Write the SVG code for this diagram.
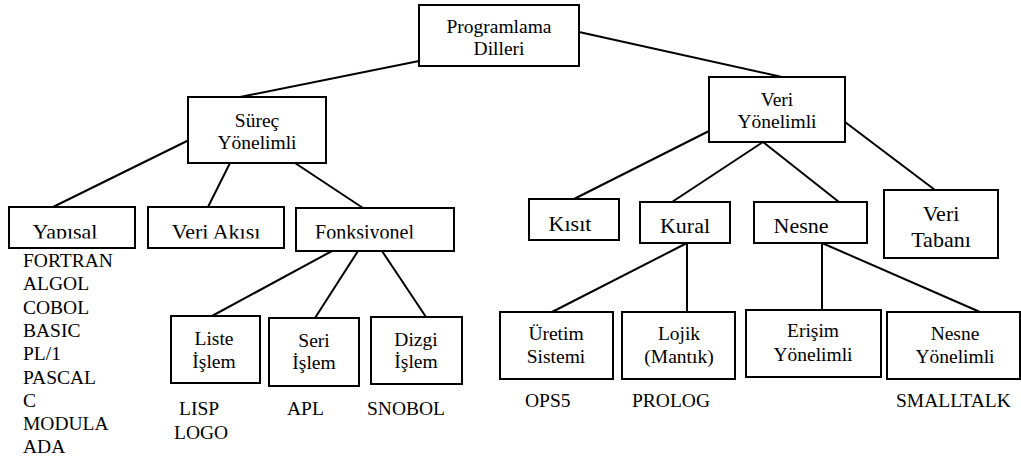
<svg xmlns="http://www.w3.org/2000/svg" width="1021" height="458" viewBox="0 0 1021 458" font-family="Liberation Serif, Times New Roman, Tinos, Noto Serif, FreeSerif, DejaVu Serif, serif">
<style>
.n{font-size:19.5px;text-anchor:middle;}
.lg{font-size:22px;text-anchor:middle;}
.l{font-size:19.5px;}
rect{fill:#fff;stroke:#000;stroke-width:2;}
#connectors line{stroke:#000;stroke-width:2;}
</style>
<defs>
<clipPath id="cut"><rect x="0" y="200" width="470" height="38.5"/></clipPath>
</defs>
<rect x="0" y="0" width="1021" height="458" style="stroke:none;fill:#fff"/>
<g id="connectors">
<line x1="419" y1="61" x2="240" y2="97"/>
<line x1="579" y1="32" x2="782" y2="77"/>
<line x1="189" y1="140" x2="53" y2="207"/>
<line x1="230" y1="163" x2="208" y2="207"/>
<line x1="295" y1="163" x2="363" y2="208"/>
<line x1="332" y1="251" x2="212" y2="316"/>
<line x1="358" y1="251" x2="315" y2="318"/>
<line x1="382" y1="251" x2="426" y2="317"/>
<line x1="709" y1="131" x2="574" y2="199"/>
<line x1="763" y1="142" x2="672" y2="202"/>
<line x1="763" y1="142" x2="839" y2="202"/>
<line x1="845" y1="122" x2="935" y2="190"/>
<line x1="687" y1="243" x2="552" y2="312"/>
<line x1="687" y1="243" x2="687" y2="312"/>
<line x1="822" y1="243" x2="822" y2="310"/>
<line x1="822" y1="243" x2="980" y2="312"/>
</g>
<g id="programlama">
<rect x="419" y="5" width="160" height="61"/>
<text class="n" x="499" y="33">Programlama</text>
<text class="n" x="499" y="55">Dilleri</text>
</g>
<g id="surec">
<rect x="188" y="97" width="138" height="66"/>
<text class="n" x="257" y="127">Süreç</text>
<text class="n" x="257" y="149">Yönelimli</text>
</g>
<g id="veriyon">
<rect x="709" y="77" width="136" height="65"/>
<text class="n" x="777" y="106">Veri</text>
<text class="n" x="777" y="128">Yönelimli</text>
</g>
<g id="yapisal">
<rect x="9" y="207" width="126" height="41"/>
<text class="lg" x="65" y="239" clip-path="url(#cut)">Yapısal</text>
<text class="l" x="23" y="267">FORTRAN</text>
<text class="l" x="23" y="290.3">ALGOL</text>
<text class="l" x="23" y="313.6">COBOL</text>
<text class="l" x="23" y="336.9">BASIC</text>
<text class="l" x="23" y="360.2">PL/1</text>
<text class="l" x="23" y="383.5">PASCAL</text>
<text class="l" x="23" y="406.8">C</text>
<text class="l" x="23" y="430.1">MODULA</text>
<text class="l" x="23" y="453.4">ADA</text>
</g>
<g id="veriakisi">
<rect x="148" y="207" width="136" height="41"/>
<text class="lg" x="216" y="239" clip-path="url(#cut)">Veri Akışı</text>
</g>
<g id="fonksiyonel">
<rect x="296" y="208" width="158" height="43"/>
<text class="n" x="364.5" y="239" clip-path="url(#cut)" style="font-size:20px">Fonksiyonel</text>
</g>
<g id="liste">
<rect x="171" y="316" width="89" height="67"/>
<text class="n" x="214" y="345">Liste</text>
<text class="n" x="214" y="368">İşlem</text>
<text class="l" x="179" y="415">LISP</text>
<text class="l" x="174" y="439">LOGO</text>
</g>
<g id="seri">
<rect x="269" y="318" width="90" height="68"/>
<text class="n" x="314" y="347">Seri</text>
<text class="n" x="314" y="369">İşlem</text>
<text class="l" x="287" y="415">APL</text>
</g>
<g id="dizgi">
<rect x="371" y="317" width="91" height="67"/>
<text class="n" x="416" y="346">Dizgi</text>
<text class="n" x="416" y="368">İşlem</text>
<text class="l" x="367" y="415">SNOBOL</text>
</g>
<g id="kisit">
<rect x="529" y="199" width="90" height="41"/>
<text class="lg" x="570" y="231">Kısıt</text>
</g>
<g id="kural">
<rect x="640" y="202" width="90" height="41"/>
<text class="lg" x="685" y="233">Kural</text>
</g>
<g id="nesne">
<rect x="754" y="202" width="113" height="41"/>
<text class="lg" x="801" y="233">Nesne</text>
</g>
<g id="veritabani">
<rect x="884" y="190" width="114" height="68"/>
<text class="lg" x="941" y="221">Veri</text>
<text class="lg" x="941" y="247">Tabanı</text>
</g>
<g id="uretim">
<rect x="500" y="312" width="113" height="67"/>
<text class="n" x="556" y="340">Üretim</text>
<text class="n" x="556" y="363">Sistemi</text>
<text class="l" x="525" y="407">OPS5</text>
</g>
<g id="lojik">
<rect x="622" y="312" width="113" height="67"/>
<text class="n" x="679" y="340">Lojik</text>
<text class="n" x="679" y="363">(Mantık)</text>
<text class="l" x="632" y="407">PROLOG</text>
</g>
<g id="erisim">
<rect x="746" y="310" width="135" height="67"/>
<text class="n" x="813" y="337">Erişim</text>
<text class="n" x="813" y="361">Yönelimli</text>
</g>
<g id="nesneyon">
<rect x="887" y="312" width="133" height="67"/>
<text class="n" x="955" y="340">Nesne</text>
<text class="n" x="955" y="363">Yönelimli</text>
<text class="l" x="896" y="407">SMALLTALK</text>
</g>
</svg>
